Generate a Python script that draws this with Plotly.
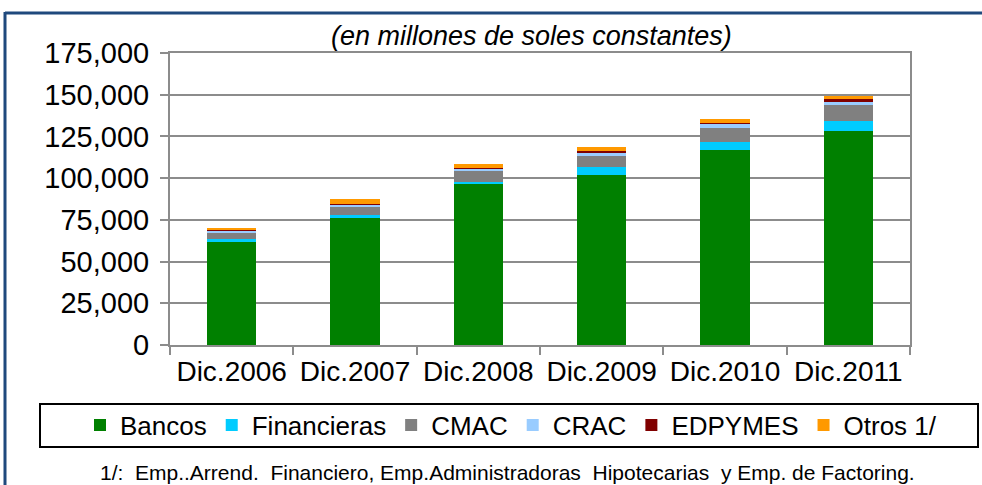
import plotly.graph_objects as go

categories = ["Dic.2006", "Dic.2007", "Dic.2008", "Dic.2009", "Dic.2010", "Dic.2011"]
bancos = [62000, 76000, 97000, 102000, 117000, 128500]
financieras = [1500, 1800, 500, 4800, 4800, 6000]
cmac = [3700, 4800, 6500, 6600, 8200, 9500]
crac = [1200, 1800, 1500, 2200, 3000, 1800]
edpymes = [300, 300, 400, 700, 300, 1800]
otros = [1500, 3000, 2800, 2300, 2000, 1800]

series = [
    ("Bancos", bancos, "#008000"),
    ("Financieras", financieras, "#00CCFF"),
    ("CMAC", cmac, "#808080"),
    ("CRAC", crac, "#99CCFF"),
    ("EDPYMES", edpymes, "#800000"),
    ("Otros 1/", otros, "#FF9900"),
]

W, H = 982, 485
L, R, T, B = 170, 72, 53, 140
PW, PH = W - L - R, H - T - B

def px(x):
    return (x - L) / PW

def py(y):
    return (H - B - y) / PH

fig = go.Figure()
for name, vals, col in series:
    fig.add_trace(go.Bar(x=categories, y=vals, name=name, marker=dict(color=col, line=dict(width=0))))

FONT = "Liberation Sans, Arial, sans-serif"

fig.update_layout(
    width=W, height=H,
    margin=dict(l=L, r=R, t=T, b=B, autoexpand=False),
    barmode="stack", bargap=0.6,
    plot_bgcolor="white", paper_bgcolor="white",
    font=dict(family=FONT, color="black"),
    showlegend=True,
    legend=dict(
        orientation="h", xref="paper", yref="paper",
        x=px(80), xanchor="left", y=py(425), yanchor="middle",
        font=dict(size=26, family=FONT), itemwidth=30, bgcolor="rgba(0,0,0,0)",
        traceorder="normal",
    ),
    xaxis=dict(
        showline=True, linecolor="#8c8c8c", linewidth=2, mirror=True,
        ticks="outside", tickson="boundaries", ticklen=8, tickcolor="#8c8c8c", tickwidth=2,
        tickfont=dict(size=28), showgrid=False, automargin=False,
    ),
    yaxis=dict(
        range=[0, 175000], dtick=25000, tickformat=",",
        showline=True, linecolor="#8c8c8c", linewidth=2, mirror=True,
        ticks="outside", ticklen=8, tickcolor="#8c8c8c", tickwidth=2,
        gridcolor="#8c8c8c", gridwidth=2, tickfont=dict(size=29),
        ticklabelstandoff=5,
        zeroline=False, automargin=False,
    ),
)

# Frame lines (navy)
fig.add_shape(type="line", xref="paper", yref="paper", x0=px(5), x1=px(982), y0=py(13), y1=py(13),
              line=dict(color="#1F497D", width=3))
fig.add_shape(type="line", xref="paper", yref="paper", x0=px(5), x1=px(5), y0=py(12), y1=py(490),
              line=dict(color="#1F497D", width=3))
# Legend box
fig.add_shape(type="rect", xref="paper", yref="paper", x0=px(40), x1=px(978), y0=py(404), y1=py(447),
              line=dict(color="black", width=2), fillcolor="rgba(0,0,0,0)")

fig.add_annotation(text="<i>(en millones de soles constantes)</i>", xref="paper", yref="paper",
                   x=px(531), y=py(36), xanchor="center", yanchor="middle", showarrow=False,
                   font=dict(size=27, family=FONT))
fig.add_annotation(text="1/:  Emp..Arrend.  Financiero, Emp.Administradoras  Hipotecarias  y Emp. de Factoring.",
                   xref="paper", yref="paper", x=px(507), y=py(472), xanchor="center", yanchor="middle",
                   showarrow=False, font=dict(size=21, family=FONT))

fig.write_html("out.html", config={"displayModeBar": False},
               post_script="document.body.style.margin='0';document.body.style.padding='0';")
